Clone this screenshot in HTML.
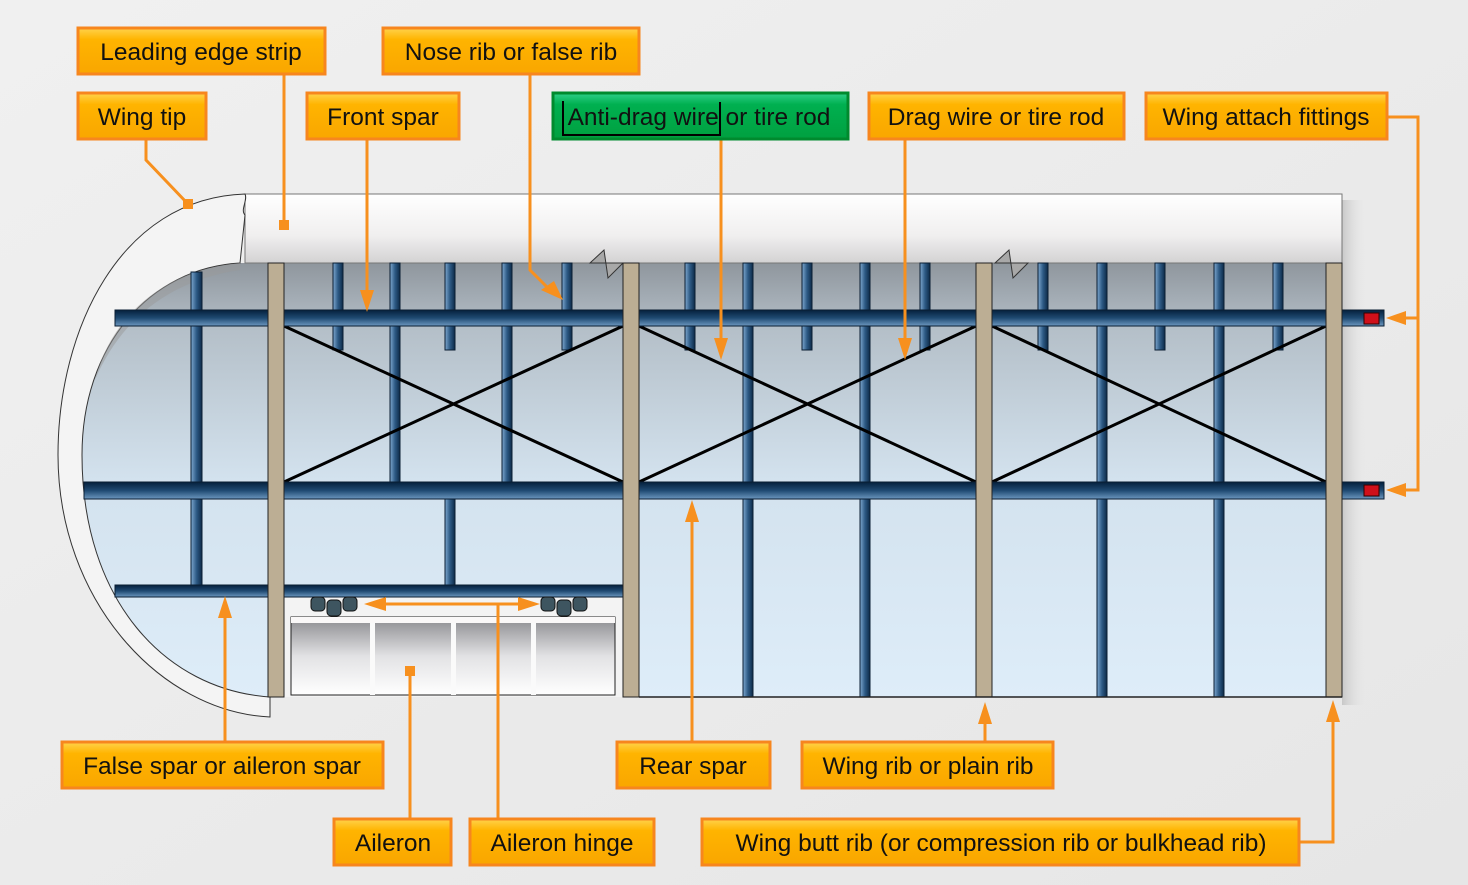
<!DOCTYPE html>
<html><head><meta charset="utf-8"><style>
html,body{margin:0;padding:0;background:#ececec}
svg{display:block}
text{font-family:"Liberation Sans",sans-serif;font-size:24.5px;fill:#111}
</style></head><body>
<svg width="1468" height="885" viewBox="0 0 1468 885" xmlns="http://www.w3.org/2000/svg">
<defs>
<linearGradient id="bg" x1="0" y1="0" x2="1" y2="1"><stop offset="0" stop-color="#f0f0f0"/><stop offset="1" stop-color="#e6e6e6"/></linearGradient>
<linearGradient id="box" x1="0" y1="0" x2="0" y2="1"><stop offset="0" stop-color="#ffd34d"/><stop offset="0.25" stop-color="#ffb400"/><stop offset="1" stop-color="#f9a600"/></linearGradient>
<linearGradient id="grn" x1="0" y1="0" x2="0" y2="1"><stop offset="0" stop-color="#2fd08a"/><stop offset="0.25" stop-color="#00b050"/><stop offset="1" stop-color="#00a040"/></linearGradient>
<linearGradient id="le" x1="0" y1="0" x2="0" y2="1"><stop offset="0" stop-color="#ffffff"/><stop offset="0.6" stop-color="#f0efef"/><stop offset="1" stop-color="#d3d2d3"/></linearGradient>
<linearGradient id="blue" x1="0" y1="0" x2="0" y2="1"><stop offset="0" stop-color="#8f969d"/><stop offset="0.15" stop-color="#b4bfc8"/><stop offset="0.5" stop-color="#d3e2ee"/><stop offset="1" stop-color="#deedf9"/></linearGradient>
<linearGradient id="hbar" x1="0" y1="0" x2="0" y2="1"><stop offset="0" stop-color="#05203c"/><stop offset="0.5" stop-color="#1f4a72"/><stop offset="1" stop-color="#6c97bf"/></linearGradient>
<linearGradient id="vbar" x1="0" y1="0" x2="1" y2="0"><stop offset="0" stop-color="#7ea8cf"/><stop offset="0.5" stop-color="#2d5a85"/><stop offset="1" stop-color="#0d2a48"/></linearGradient>
<linearGradient id="ail" x1="0" y1="0" x2="0" y2="1"><stop offset="0" stop-color="#8a8a8e"/><stop offset="0.5" stop-color="#e2e2e4"/><stop offset="1" stop-color="#ffffff"/></linearGradient>
<linearGradient id="sh" x1="0" y1="0" x2="1" y2="0"><stop offset="0" stop-color="#c8c8c8"/><stop offset="1" stop-color="#ececec" stop-opacity="0"/></linearGradient>
</defs>
<rect width="1468" height="885" fill="url(#bg)"/>

<rect x="1342" y="200" width="26" height="505" fill="url(#sh)"/>

<path d="M240,263 L1342,263 L1342,697 L623,697 L623,597 L284,597 L284,697 L268,697 C165,690 82,600 82,455 C82,345 150,268 240,263 Z" fill="url(#blue)"/>
<rect x="284" y="597" width="339" height="100" fill="#f3f3f3"/>
<rect x="245" y="194" width="1097" height="69" fill="url(#le)" stroke="#777" stroke-width="1"/>
<path d="M245,194 C120,198 58,330 58,455 C58,600 160,712 270,717 L270,697 C165,690 82,600 82,455 C82,345 150,268 240,263 L245,215 C240,210 248,200 245,194 Z" fill="#f4f4f4" stroke="#333" stroke-width="1"/>
<path d="M240,263 C160,270 110,320 95,380 C120,320 170,280 240,270 Z" fill="#9a9a9a" opacity="0.5"/>
<path d="M590,263 L604,250 L608,278 L623,263 Z" fill="#a8a8a8" stroke="#333" stroke-width="1"/>
<path d="M995,263 L1009,250 L1013,278 L1028,263 Z" fill="#a8a8a8" stroke="#333" stroke-width="1"/>

<g fill="url(#vbar)" stroke="#0a1e33" stroke-width="1">
<rect x="333" y="263" width="10" height="87"/><rect x="445" y="263" width="10" height="87"/>
<rect x="562" y="263" width="10" height="87"/><rect x="685" y="263" width="10" height="87"/>
<rect x="802" y="263" width="10" height="87"/><rect x="920" y="263" width="10" height="87"/>
<rect x="1038" y="263" width="10" height="87"/><rect x="1155" y="263" width="10" height="87"/>
<rect x="1273" y="263" width="10" height="87"/>
<rect x="445" y="499" width="10" height="86"/>
<rect x="191" y="272" width="11" height="313"/>
<rect x="390" y="263" width="10" height="219"/><rect x="502" y="263" width="10" height="219"/>
<rect x="743" y="263" width="10" height="434"/><rect x="860" y="263" width="10" height="434"/>
<rect x="1097" y="263" width="10" height="434"/><rect x="1214" y="263" width="10" height="434"/>
</g>
<g stroke="#000" stroke-width="3">
<line x1="284" y1="326" x2="623" y2="482"/><line x1="284" y1="482" x2="623" y2="326"/>
<line x1="639" y1="326" x2="976" y2="482"/><line x1="639" y1="482" x2="976" y2="326"/>
<line x1="992" y1="326" x2="1326" y2="482"/><line x1="992" y1="482" x2="1326" y2="326"/>
</g>
<g fill="url(#hbar)" stroke="#0a1e33" stroke-width="1">
<rect x="115" y="310" width="1269" height="16"/>
<rect x="84" y="482" width="1300" height="17"/>
<rect x="115" y="585" width="508" height="12"/>
</g>
<rect x="1364" y="313" width="15" height="11" fill="#d0101a" stroke="#300" stroke-width="1"/>
<rect x="1364" y="485" width="15" height="11" fill="#d0101a" stroke="#300" stroke-width="1"/>
<g fill="#bcae94" stroke="#222" stroke-width="1">
<rect x="268" y="263" width="16" height="434"/><rect x="623" y="263" width="16" height="434"/>
<rect x="976" y="263" width="16" height="434"/><rect x="1326" y="263" width="16" height="434"/>
</g>
<line x1="639" y1="697" x2="1342" y2="697" stroke="#222" stroke-width="1.5"/>
<rect x="291" y="617" width="324" height="78" fill="url(#ail)" stroke="#222" stroke-width="1"/>
<rect x="291" y="617" width="324" height="6" fill="#faf8f8"/>
<g fill="#fafafa"><rect x="370" y="623" width="5" height="72"/><rect x="451" y="623" width="5" height="72"/><rect x="531" y="623" width="5" height="72"/></g>
<g fill="#3e5560" stroke="#111" stroke-width="1">
<rect x="311" y="597" width="14" height="14" rx="4"/><rect x="343" y="597" width="14" height="14" rx="4"/><rect x="327" y="600" width="14" height="16" rx="4"/>
<rect x="541" y="597" width="14" height="14" rx="4"/><rect x="573" y="597" width="14" height="14" rx="4"/><rect x="557" y="600" width="14" height="16" rx="4"/>
</g>

<g stroke="#f7901e" stroke-width="3" fill="none">
<path d="M284,74 V225"/>
<path d="M146,139 V160 L188,204"/>
<path d="M367,139 V300"/>
<path d="M530,74 V270 L552,292"/>
<path d="M721,139 V345"/>
<path d="M905,139 V345"/>
<path d="M1387,117 H1418 V490 H1400 M1418,318 H1400"/>
<path d="M225,742 V610"/>
<path d="M692,742 V515"/>
<path d="M985,742 V718"/>
<path d="M410,819 V672"/>
<path d="M498,819 V604 M378,604 H528"/>
<path d="M1299,842 H1333 V715"/>
</g>
<g fill="#f7901e">
<rect x="279" y="220" width="10" height="10"/><rect x="183" y="199" width="10" height="10"/><rect x="405" y="666" width="10" height="10"/>
<path d="M360,290 L374,290 L367,312 Z"/>
<path d="M541,290 L554,281 L563,300 Z"/>
<path d="M714,338 L728,338 L721,360 Z"/>
<path d="M898,338 L912,338 L905,360 Z"/>
<path d="M1386,318 L1406,311 L1406,325 Z"/>
<path d="M1386,490 L1406,483 L1406,497 Z"/>
<path d="M225,596 L218,618 L232,618 Z"/>
<path d="M692,500 L685,522 L699,522 Z"/>
<path d="M985,702 L978,724 L992,724 Z"/>
<path d="M1333,700 L1326,722 L1340,722 Z"/>
<path d="M364,604 L386,597 L386,611 Z"/>
<path d="M540,604 L518,597 L518,611 Z"/>
</g>

<g stroke="#f7861e" stroke-width="3" fill="url(#box)">
<rect x="78" y="28" width="247" height="46"/>
<rect x="383" y="28" width="256" height="46"/>
<rect x="78" y="93" width="128" height="46"/>
<rect x="307" y="93" width="152" height="46"/>
<rect x="869" y="93" width="255" height="46"/>
<rect x="1146" y="93" width="241" height="46"/>
<rect x="62" y="742" width="321" height="46"/>
<rect x="617" y="742" width="153" height="46"/>
<rect x="802" y="742" width="251" height="46"/>
<rect x="334" y="819" width="117" height="46"/>
<rect x="470" y="819" width="184" height="46"/>
<rect x="702" y="819" width="597" height="46"/>
</g>
<rect x="553" y="93" width="295" height="46" fill="url(#grn)" stroke="#008a2e" stroke-width="3"/>
<path d="M563,101 V135 H720 V102" stroke="#000" stroke-width="2" fill="none"/>
<g text-anchor="middle">
<text x="201" y="60">Leading edge strip</text>
<text x="511" y="60">Nose rib or false rib</text>
<text x="142" y="125">Wing tip</text>
<text x="383" y="125">Front spar</text>
<text x="699" y="125">Anti-drag wire or tire rod</text>
<text x="996" y="125">Drag wire or tire rod</text>
<text x="1266" y="125">Wing attach fittings</text>
<text x="222" y="774">False spar or aileron spar</text>
<text x="693" y="774">Rear spar</text>
<text x="928" y="774">Wing rib or plain rib</text>
<text x="393" y="851">Aileron</text>
<text x="562" y="851">Aileron hinge</text>
<text x="1001" y="851">Wing butt rib (or compression rib or bulkhead rib)</text>
</g>
</svg>
</body></html>
